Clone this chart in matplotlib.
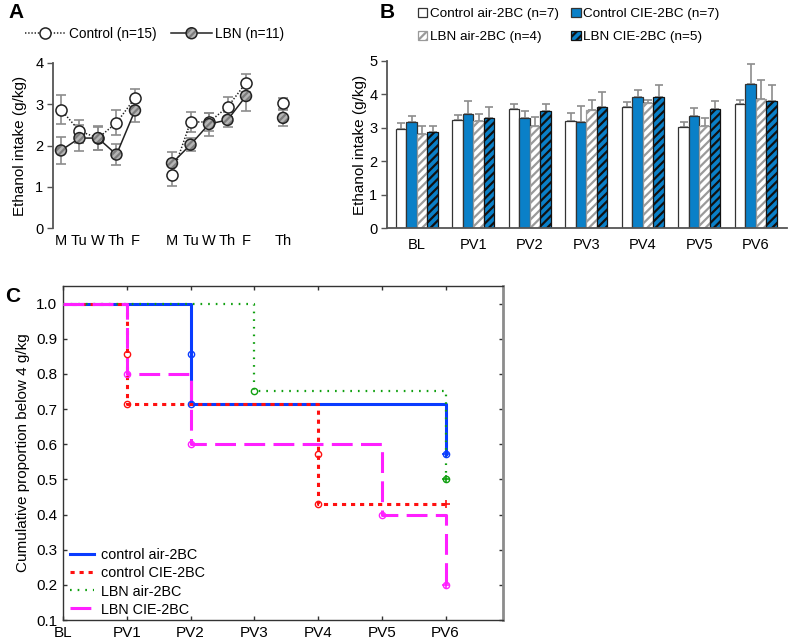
import matplotlib
matplotlib.use("Agg")
import matplotlib.pyplot as plt
import numpy as np
from matplotlib.lines import Line2D
from matplotlib.legend_handler import HandlerTuple

plt.rcParams['font.family'] = ['Liberation Sans', 'DejaVu Sans']
plt.rcParams['lines.scale_dashes'] = False
plt.rcParams['hatch.linewidth'] = 1.6

# ---------------- Panel A data ----------------
days = ['M', 'Tu', 'W', 'Th', 'F', 'M', 'Tu', 'W', 'Th', 'F', 'Th']
ctrl_w1 = [2.87, 2.35, 2.18, 2.55, 3.15]
ctrl_w1_err = [0.35, 0.28, 0.28, 0.30, 0.22]
lbn_w1 = [1.88, 2.18, 2.18, 1.78, 2.85]
lbn_w1_err = [0.32, 0.32, 0.30, 0.25, 0.28]
ctrl_w2 = [1.28, 2.57, 2.57, 2.93, 3.52]
ctrl_w2_err = [0.26, 0.25, 0.22, 0.25, 0.22]
lbn_w2 = [1.57, 2.02, 2.52, 2.62, 3.20]
lbn_w2_err = [0.28, 0.15, 0.28, 0.18, 0.36]
ctrl_th = [3.02]
ctrl_th_err = [0.13]
lbn_th = [2.67]
lbn_th_err = [0.20]

# ---------------- Panel B data ----------------
periods = ['BL', 'PV1', 'PV2', 'PV3', 'PV4', 'PV5', 'PV6']
ctrl_air = [2.96, 3.24, 3.56, 3.21, 3.61, 3.03, 3.70]
ctrl_air_err = [0.18, 0.13, 0.16, 0.22, 0.17, 0.13, 0.14]
ctrl_cie = [3.16, 3.42, 3.30, 3.16, 3.91, 3.34, 4.31]
ctrl_cie_err = [0.18, 0.37, 0.20, 0.49, 0.22, 0.24, 0.59]
lbn_air = [2.81, 3.21, 3.05, 3.54, 3.73, 3.04, 3.87]
lbn_air_err = [0.24, 0.20, 0.27, 0.29, 0.10, 0.25, 0.55]
lbn_cie = [2.87, 3.29, 3.50, 3.61, 3.92, 3.57, 3.80]
lbn_cie_err = [0.17, 0.33, 0.21, 0.46, 0.35, 0.22, 0.47]
b_labels = ['Control air-2BC (n=7)', 'Control CIE-2BC (n=7)',
            'LBN air-2BC (n=4)', 'LBN CIE-2BC (n=5)']

# ---------------- Panel C data ----------------
c_ticks = ['BL', 'PV1', 'PV2', 'PV3', 'PV4', 'PV5', 'PV6']
c_labels = ['control air-2BC', 'control CIE-2BC', 'LBN air-2BC', 'LBN CIE-2BC']
# step times (index of period) and cumulative proportions
ca_t = [0, 2, 6];       ca_p = [1.0, 0.714, 0.571]
cc_t = [0, 1, 4, 6];    cc_p = [1.0, 0.714, 0.429, 0.429]
la_t = [0, 3, 6];       la_p = [1.0, 0.75, 0.50]
lc_t = [0, 1, 2, 5, 6]; lc_p = [1.0, 0.80, 0.60, 0.40, 0.20]
# event markers (open circles)
ca_ev_t = [2, 2];       ca_ev_p = [0.857, 0.714]
cc_ev_t = [1, 1, 4, 4]; cc_ev_p = [0.857, 0.714, 0.571, 0.429]
la_ev_t = [3];          la_ev_p = [0.75]
lc_ev_t = [1, 2, 5];    lc_ev_p = [0.80, 0.60, 0.40]
# end markers
ca_end = [0.571]; cc_end = [0.429]; la_end = [0.50]; lc_end = [0.20]

W, H = 789, 640
fig = plt.figure(figsize=(W / 100, H / 100), dpi=100)

def box(l, t, r, b):
    return [l / W, 1 - b / H, (r - l) / W, (b - t) / H]

spine_c = '#555555'
err_c = '#8c8c8c'

# ================= Panel A =================
axA = fig.add_axes(box(53, 63, 296, 228))
xw1 = np.arange(5)
xw2 = np.arange(5) + 6
xth = np.array([12])
hatch_face = '#b4b4b4'
hatch_line = '#7c7c7c'

def lbn_markers(ax, xs, ys):
    a = ax.scatter(xs, ys, s=62, facecolor=hatch_face, edgecolor=hatch_line,
                   linewidth=0, hatch='/////', zorder=5)
    b = ax.scatter(xs, ys, s=62, facecolor='none', edgecolor='#222222',
                   linewidth=1.1, zorder=6)
    return a, b

for xs, c, ce, l, le in [(xw1, ctrl_w1, ctrl_w1_err, lbn_w1, lbn_w1_err),
                         (xw2, ctrl_w2, ctrl_w2_err, lbn_w2, lbn_w2_err),
                         (xth, ctrl_th, ctrl_th_err, lbn_th, lbn_th_err)]:
    axA.errorbar(xs, c, yerr=ce, fmt='none', ecolor=err_c, elinewidth=1.2,
                 capsize=3.5, capthick=1.2, zorder=1)
    axA.errorbar(xs, l, yerr=le, fmt='none', ecolor=err_c, elinewidth=1.2,
                 capsize=3.5, capthick=1.2, zorder=1)
    axA.plot(xs, c, linestyle=(0, (1, 1.3)), color='#222222', lw=1.1, zorder=2)
    axA.plot(xs, l, linestyle='-', color='#222222', lw=1.1, zorder=2)
    axA.plot(xs, c, linestyle='none', marker='o', ms=8, mfc='white',
             mec='#222222', mew=1.1, zorder=4)
    lbn_markers(axA, xs, l)

axA.set_xlim(-0.43, 12.7)
axA.set_ylim(0, 4)
axA.set_yticks([0, 1, 2, 3, 4])
axA.set_xticks(list(xw1) + list(xw2) + list(xth))
axA.set_xticklabels(days)
axA.tick_params(axis='x', length=0, labelsize=10.5, pad=4)
axA.tick_params(axis='y', direction='out', length=4, width=1, color=spine_c,
                labelsize=10.5, pad=3)
for s in ['top', 'right', 'bottom']:
    axA.spines[s].set_visible(False)
axA.spines['left'].set_color(spine_c)
axA.spines['left'].set_linewidth(1.3)
axA.set_ylabel('Ethanol intake (g/kg)', fontsize=11)
axA.yaxis.set_label_coords(-0.105, 0.5)

hC = Line2D([], [], linestyle=(0, (1, 1.3)), color='#222222', lw=1.1,
            marker='o', ms=8, mfc='white', mec='#222222', mew=1.1)
hL_line = Line2D([], [], linestyle='-', color='#222222', lw=1.1)
hL_a, hL_b = lbn_markers(axA, [], [])
fig.legend([hC, (hL_line, hL_a, hL_b)], ['Control (n=15)', 'LBN (n=11)'],
           handler_map={tuple: HandlerTuple(ndivide=1)},
           loc='center left', bbox_to_anchor=(25 / W, 1 - 34 / H), ncol=2,
           frameon=False, fontsize=9.8, handlelength=3.0, handletextpad=0.2,
           columnspacing=1.1, numpoints=1, scatterpoints=1,
           scatteryoffsets=[0.5], borderaxespad=0, borderpad=0)

# ================= Panel B =================
axB = fig.add_axes(box(387, 61, 787, 228))
xb = np.arange(len(periods))
bw = 0.186
blue = '#0a80c8'
series = [
    (ctrl_air, ctrl_air_err, dict(facecolor='white', edgecolor='#333333', hatch=None)),
    (ctrl_cie, ctrl_cie_err, dict(facecolor=blue, edgecolor='#333333', hatch=None)),
    (lbn_air, lbn_air_err, dict(facecolor='white', edgecolor='#9a9a9a', hatch='////')),
    (lbn_cie, lbn_cie_err, dict(facecolor=blue, edgecolor='#111111', hatch='////')),
]
offs = [-1.5, -0.5, 0.5, 1.5]
handles_b = []
for (vals, errs, sty), o, lab in zip(series, offs, b_labels):
    bars = axB.bar(xb + o * bw, vals, width=bw, linewidth=0.9, zorder=2,
                   label=lab, **sty)
    axB.errorbar(xb + o * bw, vals, yerr=[np.zeros(len(vals)), errs], fmt='none',
                 ecolor=err_c, elinewidth=1.2, capsize=2.6, capthick=1.2, zorder=1)
    handles_b.append(bars)
axB.set_xlim(-0.53, 6.55)
axB.set_ylim(0, 5)
axB.set_yticks([0, 1, 2, 3, 4, 5])
axB.set_xticks(xb)
axB.set_xticklabels(periods)
axB.tick_params(axis='x', length=0, labelsize=10.5, pad=7)
axB.tick_params(axis='y', direction='out', length=4, width=1, color=spine_c,
                labelsize=10.5, pad=3)
for s in ['top', 'right']:
    axB.spines[s].set_visible(False)
for s in ['left', 'bottom']:
    axB.spines[s].set_color(spine_c)
    axB.spines[s].set_linewidth(1.3)
axB.set_ylabel('Ethanol intake (g/kg)', fontsize=11)
axB.yaxis.set_label_coords(-0.05, 0.5)
order = [0, 2, 1, 3]
fig.legend([handles_b[i] for i in order], [b_labels[i] for i in order],
           loc='upper left', bbox_to_anchor=(418 / W, 1 - 8 / H), ncol=2,
           frameon=False, fontsize=9.7, handlelength=0.7, handleheight=0.7,
           handletextpad=0.2, columnspacing=0.9, labelspacing=0.75,
           borderaxespad=0, borderpad=0)

# ================= Panel C =================
axC = fig.add_axes(box(63, 286, 503, 620))
c_blue = '#0a3cff'
c_red = '#ff1010'
c_green = '#10a010'
c_mag = '#ff20ff'
styles = [
    (ca_t, ca_p, ca_ev_t, ca_ev_p, ca_end, c_blue, '-', 2.2, 'both'),
    (cc_t, cc_p, cc_ev_t, cc_ev_p, cc_end, c_red, (0, (3.0, 3.5)), 2.2, 'plus'),
    (la_t, la_p, la_ev_t, la_ev_p, la_end, c_green, (0, (1.2, 4.3)), 1.6, 'both'),
    (lc_t, lc_p, lc_ev_t, lc_ev_p, lc_end, c_mag, (0, (15, 6)), 2.2, 'both'),
]
lines_c = []
for (t, p, et, ep, endp, col, ls, lw, endm), lab in zip(styles, c_labels):
    ln, = axC.plot(t, p, drawstyle='steps-post', color=col, linestyle=ls, lw=lw,
                   label=lab, zorder=3)
    lines_c.append(ln)
    axC.plot(et, ep, linestyle='none', marker='o', ms=4.5, mfc='none', mec=col,
             mew=1.0, zorder=4)
    if endm == 'both':
        axC.plot([t[-1]] * len(endp), endp, linestyle='none', marker='o', ms=4.5,
                 mfc='none', mec=col, mew=1.0, zorder=4)
    axC.plot([t[-1]] * len(endp), endp, linestyle='none', marker='+', ms=6,
             mec=col, mew=1.2, zorder=4)

axC.set_xlim(0, 6.9)
axC.set_ylim(0.1, 1.05)
axC.set_xticks(range(len(c_ticks)))
axC.set_xticklabels(c_ticks)
axC.set_yticks(np.round(np.arange(0.1, 1.01, 0.1), 1))
axC.yaxis.set_major_formatter(matplotlib.ticker.FormatStrFormatter('%.1f'))
axC.tick_params(direction='in', top=True, right=True, length=3, width=1,
                color='#333333', labelsize=11, pad=4)
for s in ['left', 'bottom', 'top']:
    axC.spines[s].set_color('#333333')
    axC.spines[s].set_linewidth(1.0)
axC.spines['right'].set_color('#8c8c8c')
axC.spines['right'].set_linewidth(2.0)
axC.set_ylabel('Cumulative proportion below 4 g/kg', fontsize=11)
axC.yaxis.set_label_coords(-0.075, 0.5)
axC.legend(handles=lines_c, loc='lower left', bbox_to_anchor=(0.012, 0.006),
           frameon=False, fontsize=10.4, handlelength=1.7, handletextpad=0.45,
           labelspacing=0.28, borderaxespad=0, borderpad=0.1)

# panel letters
fig.text(8 / W, 1 - 12 / H, 'A', fontsize=15, fontweight='bold', va='center')
fig.text(380 / W, 1 - 12 / H, 'B', fontsize=15, fontweight='bold', va='center')
fig.text(5 / W, 1 - 297 / H, 'C', fontsize=15, fontweight='bold', va='center')

fig.savefig('out.png', dpi=100)
